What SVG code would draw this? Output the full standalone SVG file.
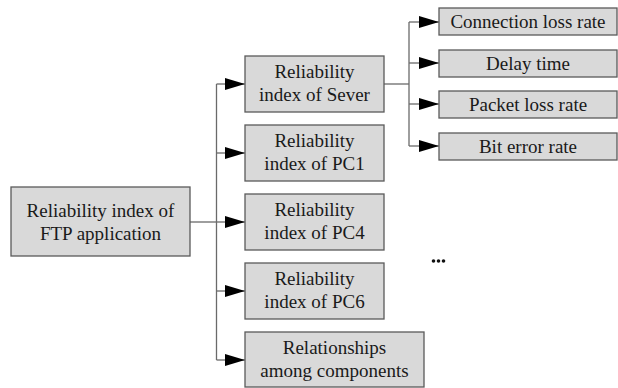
<svg xmlns="http://www.w3.org/2000/svg" width="618" height="388" viewBox="0 0 618 388">
  <defs>
    <marker id="arrow" markerWidth="20" markerHeight="12" refX="20" refY="6" orient="auto" markerUnits="userSpaceOnUse">
      <path d="M0,0 L20,6 L0,12 Z" fill="#000"/>
    </marker>
    <style>
      .box { fill: #d9d9d9; stroke: #5a5a5a; stroke-width: 1.3; }
      .lbl { font-size: 19px; fill: #1a1a1a; text-anchor: middle; }
      .wire { fill: none; stroke: #6a6a6a; stroke-width: 1.3; }
      .arr { fill: none; stroke: #6a6a6a; stroke-width: 1.3; marker-end: url(#arrow); }
    </style>
  </defs>
  <rect width="618" height="388" fill="#fff"/>

  <g id="connectors">
    <!-- root to trunk -->
    <path class="wire" d="M190,222 H216.5"/>
    <path class="wire" d="M216.5,84 V360"/>
    <path class="arr" d="M216.5,84 H245"/>
    <path class="arr" d="M216.5,153 H245"/>
    <path class="arr" d="M216.5,222 H245"/>
    <path class="arr" d="M216.5,291 H245"/>
    <path class="arr" d="M216.5,360 H245"/>
    <!-- server to its metrics -->
    <path class="wire" d="M384,84 H409"/>
    <path class="wire" d="M409,22 V146"/>
    <path class="arr" d="M409,22 H439"/>
    <path class="arr" d="M409,63 H439"/>
    <path class="arr" d="M409,104 H439"/>
    <path class="arr" d="M409,146 H439"/>
  </g>

  <g font-family="Liberation Serif, DejaVu Serif, serif">
  <g id="root">
    <rect class="box" x="11" y="187" width="179" height="69"/>
    <text class="lbl" x="100.5" y="217">Reliability index of</text>
    <text class="lbl" x="100.5" y="240">FTP application</text>
  </g>

  <g id="server">
    <rect class="box" x="245" y="56" width="139" height="56"/>
    <text class="lbl" x="314.5" y="78">Reliability</text>
    <text class="lbl" x="314.5" y="101">index of Sever</text>
  </g>

  <g id="pc1">
    <rect class="box" x="245" y="125" width="139" height="56"/>
    <text class="lbl" x="314.5" y="147">Reliability</text>
    <text class="lbl" x="314.5" y="170">index of PC1</text>
  </g>

  <g id="pc4">
    <rect class="box" x="245" y="194" width="139" height="56"/>
    <text class="lbl" x="314.5" y="216">Reliability</text>
    <text class="lbl" x="314.5" y="239">index of PC4</text>
  </g>

  <g id="pc6">
    <rect class="box" x="245" y="263" width="139" height="56"/>
    <text class="lbl" x="314.5" y="285">Reliability</text>
    <text class="lbl" x="314.5" y="308">index of PC6</text>
  </g>

  <g id="relationships">
    <rect class="box" x="245" y="332" width="179" height="55"/>
    <text class="lbl" x="334.5" y="354">Relationships</text>
    <text class="lbl" x="334.5" y="377">among components</text>
  </g>

  <g id="connection-loss">
    <rect class="box" x="439" y="8" width="178" height="27"/>
    <text class="lbl" x="528" y="28">Connection loss rate</text>
  </g>

  <g id="delay">
    <rect class="box" x="439" y="50" width="178" height="27"/>
    <text class="lbl" x="528" y="70">Delay time</text>
  </g>

  <g id="packet-loss">
    <rect class="box" x="439" y="91" width="178" height="27"/>
    <text class="lbl" x="528" y="111">Packet loss rate</text>
  </g>

  <g id="bit-error">
    <rect class="box" x="439" y="133" width="178" height="27"/>
    <text class="lbl" x="528" y="153">Bit error rate</text>
  </g>
  </g>

  <g id="ellipsis">
    <circle cx="433.5" cy="261" r="1.8" fill="#111"/>
    <circle cx="438.5" cy="261" r="1.8" fill="#111"/>
    <circle cx="443.5" cy="261" r="1.8" fill="#111"/>
  </g>
</svg>
